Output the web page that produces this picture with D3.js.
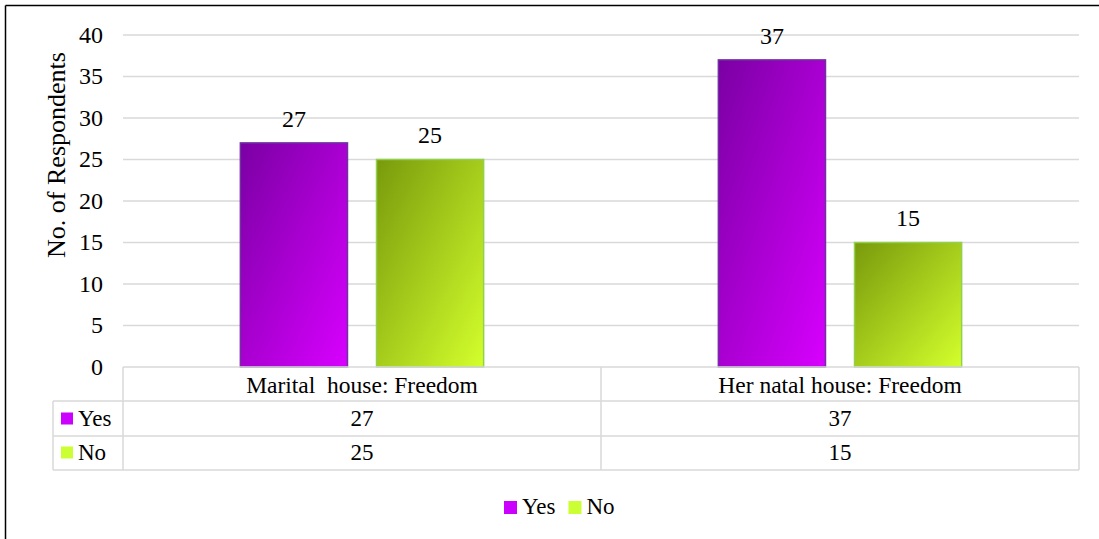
<!DOCTYPE html>
<html>
<head>
<meta charset="utf-8">
<script src="https://cdn.jsdelivr.net/npm/d3@7/dist/d3.min.js"></script>
<style>
  html, body { margin: 0; padding: 0; background: #fff; }
  svg { display: block; font-family: "Liberation Serif", "Times New Roman", serif; }
</style>
</head>
<body>
<svg id="chart" width="1099" height="539"></svg>
<script>
// Survey data: freedom in marital vs natal house
const categories = ["Marital  house: Freedom", "Her natal house: Freedom"];
const seriesNames = ["Yes", "No"];
const yesValues = [27, 37];
const noValues = [25, 15];
const yTicks = [0, 5, 10, 15, 20, 25, 30, 35, 40];

const series = [
  { name: seriesNames[0], values: yesValues, dark: "#7a00a3", light: "#d800ff", stroke: "#7030a0", key: "#cc00ff" },
  { name: seriesNames[1], values: noValues, dark: "#789a0c", light: "#d4ff2c", stroke: "#92d050", key: "#ccff33" }
];

const svg = d3.select("#chart");
const W = 1099, H = 539;

// outer frame (top and left edges visible)
svg.append("line").attr("x1", 5.5).attr("x2", W).attr("y1", 5.5).attr("y2", 5.5)
  .attr("stroke", "#000").attr("stroke-width", 1.5);
svg.append("line").attr("x1", 5.5).attr("x2", 5.5).attr("y1", 5.5).attr("y2", H)
  .attr("stroke", "#000").attr("stroke-width", 1.5);

const plot = { left: 123, right: 1079, top: 35, bottom: 367 };

const x0 = d3.scaleBand().domain(categories).range([plot.left, plot.right]).paddingInner(0).paddingOuter(0);
const x1 = d3.scaleBand().domain(seriesNames).range([0, x0.bandwidth()]).paddingInner(0.2132).paddingOuter(0.862);
const y = d3.scaleLinear().domain([0, 40]).range([plot.bottom, plot.top]);

// gridlines
svg.append("g").selectAll("line").data(yTicks.filter(t => t > 0)).join("line")
  .attr("x1", plot.left).attr("x2", plot.right)
  .attr("y1", d => y(d)).attr("y2", d => y(d))
  .attr("stroke", "#d9d9d9").attr("stroke-width", 1.5);

// y tick labels
svg.append("g").selectAll("text").data(yTicks).join("text")
  .attr("x", 103).attr("y", d => y(d)).attr("dy", "0.32em")
  .attr("text-anchor", "end").attr("font-size", 24).attr("fill", "#000")
  .text(d => d);

// y axis title
svg.append("text")
  .attr("transform", `translate(57,155) rotate(-90)`)
  .attr("dy", "0.32em")
  .attr("text-anchor", "middle").attr("font-size", 26).attr("fill", "#000")
  .text("No. of Respondents");

// gradients
const defs = svg.append("defs");
series.forEach((s, i) => {
  const g = defs.append("linearGradient").attr("id", "grad" + i)
    .attr("x1", "0").attr("y1", "0").attr("x2", "1").attr("y2", "1");
  g.append("stop").attr("offset", "0%").attr("stop-color", s.dark);
  g.append("stop").attr("offset", "100%").attr("stop-color", s.light);
});

// bars
const barG = svg.append("g");
categories.forEach((c, ci) => {
  series.forEach((s, si) => {
    const v = s.values[ci];
    const bx = x0(c) + x1(s.name);
    barG.append("rect")
      .attr("x", bx).attr("y", y(v))
      .attr("width", x1.bandwidth()).attr("height", y(0) - y(v))
      .attr("fill", `url(#grad${si})`)
      .attr("stroke", s.stroke).attr("stroke-width", 1.5);
    barG.append("text")
      .attr("x", bx + x1.bandwidth() / 2).attr("y", y(v) - 24).attr("dy", "0.32em")
      .attr("text-anchor", "middle").attr("font-size", 24).attr("fill", "#000")
      .text(v);
  });
});

// data table below the plot
const rowH = 34;
const tableTop = plot.bottom;
const keyLeft = 53;
const tg = svg.append("g");
const gridColor = "#d9d9d9";
const tl = (x1_, y1_, x2_, y2_) => tg.append("line")
  .attr("x1", x1_).attr("y1", y1_).attr("x2", x2_).attr("y2", y2_)
  .attr("stroke", gridColor).attr("stroke-width", 1.5);

// horizontal rules
tl(plot.left, tableTop, plot.right, tableTop);
tl(keyLeft, tableTop + rowH, plot.right, tableTop + rowH);
tl(keyLeft, tableTop + 2 * rowH + 1, plot.right, tableTop + 2 * rowH + 1);
tl(keyLeft, tableTop + 3 * rowH + 1, plot.right, tableTop + 3 * rowH + 1);
// vertical rules
tl(plot.left, tableTop, plot.left, tableTop + 3 * rowH + 1);
tl(keyLeft, tableTop + rowH, keyLeft, tableTop + 3 * rowH + 1);
tl(plot.right, tableTop, plot.right, tableTop + 3 * rowH + 1);
categories.slice(1).forEach(c => tl(x0(c), tableTop, x0(c), tableTop + 3 * rowH + 1));

// header row
categories.forEach(c => {
  tg.append("text").attr("x", x0(c) + x0.bandwidth() / 2).attr("y", tableTop + rowH / 2 + 1)
    .attr("dy", "0.32em").attr("text-anchor", "middle").attr("font-size", 23.5)
    .style("white-space", "pre")
    .text(c);
});

// value rows
series.forEach((s, si) => {
  const ry = tableTop + rowH * (si + 1) + rowH / 2 + 0.5;
  tg.append("rect").attr("x", 61).attr("y", ry - 6).attr("width", 12).attr("height", 12).attr("fill", s.key);
  tg.append("text").attr("x", 78).attr("y", ry).attr("dy", "0.32em")
    .attr("font-size", 23).text(s.name);
  categories.forEach((c, ci) => {
    tg.append("text").attr("x", x0(c) + x0.bandwidth() / 2).attr("y", ry).attr("dy", "0.32em")
      .attr("text-anchor", "middle").attr("font-size", 23).text(s.values[ci]);
  });
});

// legend
const legY = 507;
const lg = svg.append("g");
let lx = 504;
series.forEach((s, si) => {
  lg.append("rect").attr("x", lx).attr("y", legY - 6).attr("width", 13).attr("height", 13).attr("fill", s.key);
  const t = lg.append("text").attr("x", lx + 18).attr("y", legY).attr("dy", "0.32em")
    .attr("font-size", 23).text(s.name);
  lx += 18 + t.node().getComputedTextLength() + 13;
});
</script>
</body>
</html>
